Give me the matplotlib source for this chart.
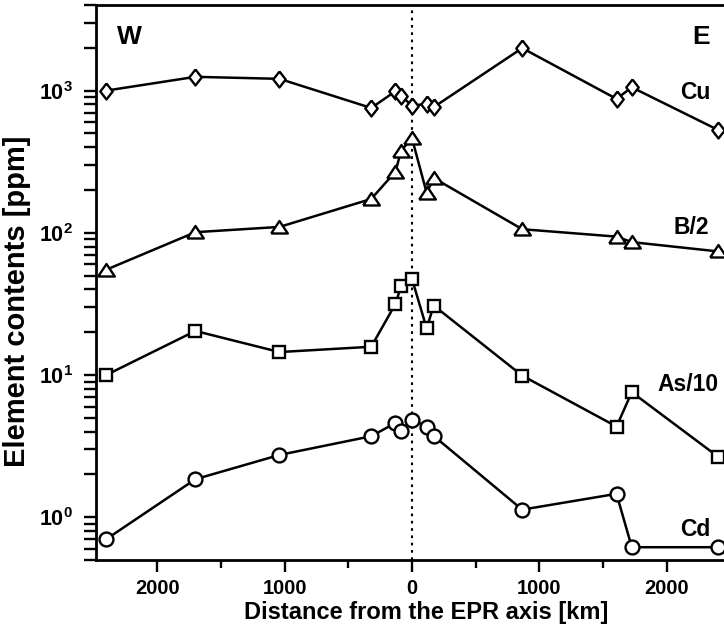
import numpy as np
import matplotlib
matplotlib.use("Agg")
import matplotlib.pyplot as plt
from matplotlib.ticker import FixedLocator, FuncFormatter, LogLocator, NullFormatter, MultipleLocator

# Font Arial-like tebal
plt.rcParams['font.family'] = ['Liberation Sans', 'DejaVu Sans']
plt.rcParams['font.weight'] = 'bold'
plt.rcParams['mathtext.fontset'] = 'custom'
plt.rcParams['mathtext.rm'] = 'Liberation Sans'
plt.rcParams['mathtext.bf'] = 'Liberation Sans:bold'

# === DATA ===
# jarak dari sumbu EPR (negatif = barat)
distance = [-2400, -1700, -1040, -320, -130, -85, 0, 115, 170, 865, 1605, 1725, 2400]

cu = [1000, 1250, 1210, 755, 990, 915, 785, 805, 765, 1990, 875, 1055, 530]
b_half = [55, 101, 110, 173, 269, 379, 462, 191, 243, 106, 94, 86, 74]
as_tenth = [10.0, 20.4, 14.5, 15.8, 31.6, 42.5, 47.4, 21.3, 30.8, 9.9, 4.34, 7.57, 2.67]
cd = [0.70, 1.85, 2.74, 3.71, 4.60, 4.05, 4.86, 4.34, 3.73, 1.13, 1.46, 0.615, 0.615]

series_names = ['Cu', 'B/2', 'As/10', 'Cd']

x_ticks = [-2000, -1000, 0, 1000, 2000]
y_ticks = [1, 10, 100, 1000]
y_tick_labels = [r'$\mathbf{10}^{\mathrm{0}}$', r'$\mathbf{10}^{\mathrm{1}}$',
                 r'$\mathbf{10}^{\mathrm{2}}$', r'$\mathbf{10}^{\mathrm{3}}$']

# marker custom: belah ketupat & segitiga lebar
diamond = [(0, 1), (0.78, 0), (0, -1), (-0.78, 0), (0, 1)]
triangle = [(-1, -0.72), (1, -0.72), (0, 0.78), (-1, -0.72)]

fig = plt.figure(figsize=(7.24, 6.26), dpi=100)
# sumbu kanan sengaja sedikit keluar dari gambar (seperti referensi)
ax = fig.add_axes([96 / 724, 1 - 560 / 626, (728 - 96) / 724, (560 - 5) / 626])

ax.axvline(0, color='k', ls=(0, (1.3, 2.2)), lw=1.5, zorder=1)

style = dict(color='k', lw=1.8, mfc='white', mec='k', mew=1.7, zorder=3)
ax.plot(distance, cu, marker=diamond, ms=11.5, **style)
ax.plot(distance, b_half, marker=triangle, ms=12, **style)
ax.plot(distance, as_tenth, marker='s', ms=9, **style)
ax.plot(distance, cd, marker='o', ms=10, **style)

ax.set_yscale('log')
ax.set_xlim(-2480, 2480)
ax.set_ylim(0.5, 4000)

# ticks
ax.xaxis.set_major_locator(FixedLocator(x_ticks))
ax.xaxis.set_major_formatter(FuncFormatter(lambda v, p: f'{abs(int(v))}'))
ax.xaxis.set_minor_locator(MultipleLocator(500))
ax.yaxis.set_major_locator(FixedLocator(y_ticks))
ax.set_yticklabels(y_tick_labels)
ax.yaxis.set_minor_locator(LogLocator(base=10, subs=np.arange(2, 10)))
ax.yaxis.set_minor_formatter(NullFormatter())

ax.tick_params(axis='x', which='major', direction='out', length=8.5, width=1.7, pad=5, labelsize=14.5)
ax.tick_params(axis='x', which='minor', direction='out', length=5.5, width=1.7)
ax.tick_params(axis='y', which='both', direction='out', length=8.5, width=1.7, pad=8, labelsize=15.5)
ax.tick_params(top=False, right=False, which='both')

for s in ax.spines.values():
    s.set_linewidth(2.0)

ax.set_xlabel('Distance from the EPR axis [km]', fontsize=17, fontweight='bold')
ax.xaxis.set_label_coords((426 - 96) / (728 - 96), -(613 - 560) / 555, transform=ax.transAxes)
ax.xaxis.label.set_va('center')
ax.set_ylabel('Element contents [ppm]', fontsize=21, fontweight='bold')
ax.yaxis.set_label_coords(-(96 - 16.5) / (728 - 96), 1 - (301 - 5) / 555)
ax.yaxis.label.set_va('center')

# label W/E dan nama seri
ax.text(-2220, 2130, 'W', fontsize=19, fontweight='bold', ha='center', va='baseline')
ax.text(2272, 2130, 'E', fontsize=19, fontweight='bold', ha='center', va='baseline')
label_pos = [(2226, 875), (2188, 98.3), (2165, 7.77), (2226, 0.735)]
for name, (lx, ly) in zip(series_names, label_pos):
    ax.text(lx, ly, name, fontsize=16.5, fontweight='bold', ha='center', va='baseline')

fig.savefig('out.png', dpi=100)
